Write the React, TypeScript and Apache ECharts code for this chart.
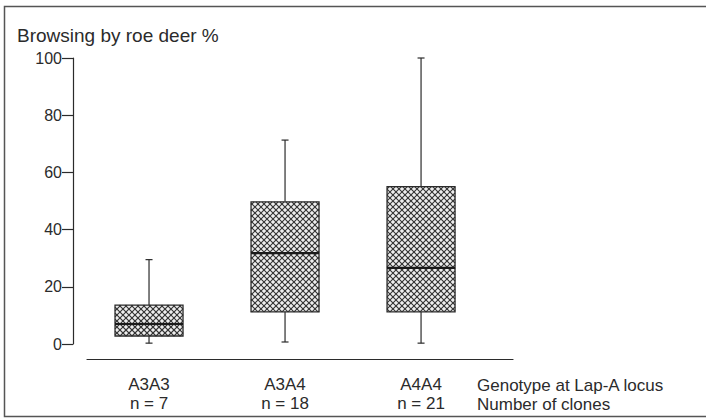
import React, { useEffect, useRef } from "react";
import * as echarts from "echarts";

const categories = ["A3A3", "A3A4", "A4A4"];
const clones = ["n = 7", "n = 18", "n = 21"];
const whiskerLow = [0.3, 0.7, 0.3];
const quartile1 = [2.8, 11.2, 11.2];
const medians = [7, 31.8, 26.6];
const quartile3 = [13.6, 49.7, 55];
const whiskerHigh = [29.5, 71.3, 100];
const yTicks = [0, 20, 40, 60, 80, 100];

const FONT = "'Liberation Sans', Arial, sans-serif";
const INK = "#2b2b2b";

function hatchLines(x0: number, y0: number, x1: number, y1: number, s: number) {
  const out: any[] = [];
  const cStart = Math.ceil((x0 + y0) / s) * s;
  for (let c = cStart; c <= x1 + y1; c += s) {
    const xa = Math.max(x0, c - y1);
    const xb = Math.min(x1, c - y0);
    if (xb > xa) out.push([xa, c - xa, xb, c - xb]);
  }
  const kStart = Math.ceil((x0 - y1) / s) * s;
  for (let k = kStart; k <= x1 - y0; k += s) {
    const xa = Math.max(x0, y0 + k);
    const xb = Math.min(x1, y1 + k);
    if (xb > xa) out.push([xa, xa - k, xb, xb - k]);
  }
  return out;
}

export default function App() {
  const ref = useRef<HTMLDivElement>(null);
  useEffect(() => {
    const chart = echarts.init(ref.current!, null, { renderer: "svg" });
    const data = categories.map((_, i) => [
      i,
      whiskerLow[i],
      quartile1[i],
      medians[i],
      quartile3[i],
      whiskerHigh[i],
    ]);
    chart.setOption({
      animation: false,
      backgroundColor: "#ffffff",
      title: {
        text: "Browsing by roe deer %",
        left: 12,
        top: 21,
        textStyle: { fontFamily: FONT, fontSize: 19, fontWeight: "normal", color: INK },
      },
      graphic: [
        {
          type: "rect",
          shape: { x: 4.5, y: 6.5, width: 720, height: 410 },
          style: { fill: "none", stroke: "#555", lineWidth: 1.5 },
          silent: true,
        },
        {
          type: "text",
          left: 477,
          top: 376,
          style: {
            text: "Genotype at Lap-A locus\nNumber of clones",
            font: `17px ${FONT}`,
            fill: INK,
            lineHeight: 19,
          },
        },
      ],
      grid: { left: 87, right: 193, top: 58, bottom: 76 },
      xAxis: {
        type: "value",
        min: -0.456,
        max: 2.676,
        offset: 15,
        splitLine: { show: false },
        axisLine: { show: true, onZero: false, lineStyle: { color: INK, width: 1.2 } },
        axisTick: { show: false },
        axisLabel: {
          customValues: [0, 1, 2],
          margin: 16,
          fontFamily: FONT,
          fontSize: 17,
          color: INK,
          lineHeight: 19,
          formatter: (v: number) => {
            const i = Math.round(v);
            return categories[i] !== undefined ? `${categories[i]}\n${clones[i]}` : "";
          },
        },
      },
      yAxis: {
        type: "value",
        min: 0,
        max: 100,
        interval: 20,
        offset: 14,
        splitLine: { show: false },
        axisLine: { show: true, onZero: false, lineStyle: { color: INK, width: 1.2 } },
        axisTick: { show: true, length: 11, lineStyle: { color: INK, width: 1.2 } },
        axisLabel: {
          margin: 11,
          fontFamily: FONT,
          fontSize: 16,
          color: INK,
          formatter: (v: number) => (yTicks.includes(v) ? String(v) : ""),
        },
      },
      series: [
        {
          type: "custom",
          clip: false,
          data,
          renderItem: (params: any, api: any) => {
            const x = api.value(0);
            const lo = api.coord([x, api.value(1)]);
            const q1 = api.coord([x, api.value(2)]);
            const md = api.coord([x, api.value(3)]);
            const q3 = api.coord([x, api.value(4)]);
            const hi = api.coord([x, api.value(5)]);
            const cx = lo[0];
            const hw = 34;
            const cap = 3.5;
            const x0 = cx - hw;
            const x1 = cx + hw;
            const children: any[] = [];
            const ls = { stroke: INK, lineWidth: 1.2 };
            children.push({ type: "line", shape: { x1: cx, y1: hi[1], x2: cx, y2: q3[1] }, style: ls });
            children.push({ type: "line", shape: { x1: cx, y1: q1[1], x2: cx, y2: lo[1] }, style: ls });
            children.push({ type: "line", shape: { x1: cx - cap, y1: hi[1], x2: cx + cap, y2: hi[1] }, style: ls });
            children.push({ type: "line", shape: { x1: cx - cap, y1: lo[1], x2: cx + cap, y2: lo[1] }, style: ls });
            children.push({
              type: "rect",
              shape: { x: x0, y: q3[1], width: hw * 2, height: q1[1] - q3[1] },
              style: { fill: "#eeeeee", stroke: "none" },
            });
            hatchLines(x0, q3[1], x1, q1[1], 6).forEach((l) => {
              children.push({
                type: "line",
                shape: { x1: l[0], y1: l[1], x2: l[2], y2: l[3] },
                style: { stroke: "#333333", lineWidth: 1.1 },
              });
            });
            children.push({
              type: "rect",
              shape: { x: x0, y: q3[1], width: hw * 2, height: q1[1] - q3[1] },
              style: { fill: "none", stroke: INK, lineWidth: 1.3 },
            });
            children.push({
              type: "line",
              shape: { x1: x0, y1: md[1], x2: x1, y2: md[1] },
              style: { stroke: "#1a1a1a", lineWidth: 2.2 },
            });
            return { type: "group", children };
          },
        },
      ],
    });
    return () => chart.dispose();
  }, []);
  return (
    <div
      ref={ref}
      style={{ position: "fixed", left: 0, top: 0, width: 706, height: 420 }}
    />
  );
}
